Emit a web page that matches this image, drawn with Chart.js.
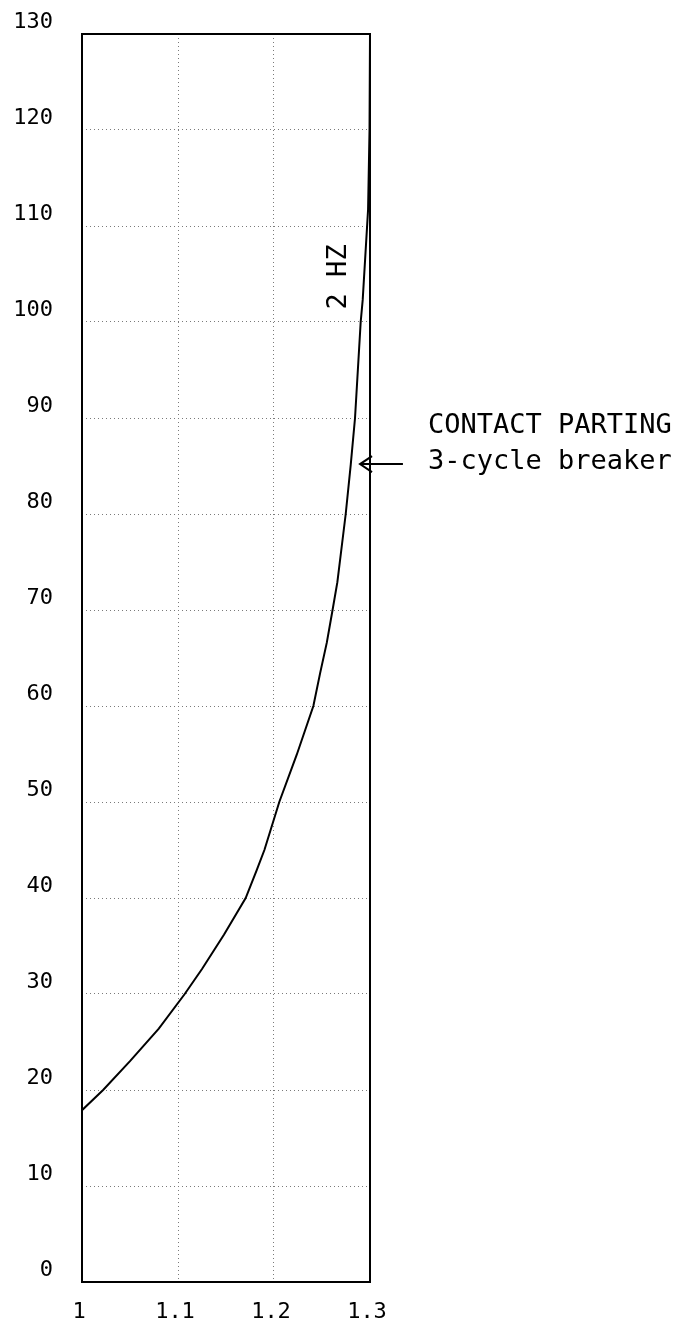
<!DOCTYPE html>
<html>
<head>
<meta charset="utf-8">
<script src="https://cdn.jsdelivr.net/npm/chart.js@4/dist/chart.umd.min.js"></script>
<style>
  html, body { margin: 0; padding: 0; background: #fff; }
  #wrap { width: 689px; height: 1326px; }
</style>
</head>
<body>
<div id="wrap"><canvas id="chart" width="689" height="1326"></canvas></div>
<script>
// curve (x = ratio, y = value)
const curveX = [1.0, 1.022, 1.05, 1.08, 1.107, 1.125, 1.148, 1.1705, 1.182, 1.19, 1.2055,
  1.2236, 1.241, 1.248, 1.255, 1.261, 1.266, 1.2747, 1.28, 1.2844, 1.2903, 1.2924, 1.298, 1.2995, 1.3];
const curveY = [17.9, 20, 23.0, 26.4, 30, 32.6, 36.2, 40, 42.9, 45, 50,
  54.9, 60, 63.4, 66.6, 70, 72.9, 80, 85.2, 90, 100, 102.3, 111.7, 120, 130];

const xTicks = [1, 1.1, 1.2, 1.3];
const yTicks = [0, 10, 20, 30, 40, 50, 60, 70, 80, 90, 100, 110, 120, 130];

// annotation anchors in data units
const curveLabel = { text: '2 HZ', x: 1.2677, y: 104.7 };
const noteLines = ['CONTACT PARTING', '3-cycle breaker'];
const noteAt = { x: 1.3604, y: [89.2, 85.4] };
const arrowTip = { x: 1.2896, y: 85.2 };
const arrowTail = { x: 1.3343, y: 85.2 };

const monoFont = '"DejaVu Sans Mono", "Liberation Mono", monospace';

const framePlugin = {
  id: 'frame',
  afterDatasetsDraw(chart) {
    const { ctx, chartArea: a, scales: { x, y } } = chart;
    ctx.save();
    ctx.strokeStyle = '#000';
    ctx.lineWidth = 2;
    ctx.strokeRect(a.left, a.top, a.right - a.left, a.bottom - a.top);

    ctx.fillStyle = '#000';
    ctx.font = '27px ' + monoFont;
    ctx.textBaseline = 'middle';

    // rotated curve label
    ctx.save();
    ctx.translate(x.getPixelForValue(curveLabel.x), y.getPixelForValue(curveLabel.y));
    ctx.rotate(-Math.PI / 2);
    ctx.textAlign = 'center';
    ctx.fillText(curveLabel.text, 0, 0);
    ctx.restore();

    // note text
    ctx.textAlign = 'left';
    noteLines.forEach((t, i) => {
      ctx.fillText(t, x.getPixelForValue(noteAt.x), y.getPixelForValue(noteAt.y[i]));
    });

    // arrow
    const tx = x.getPixelForValue(arrowTip.x), ty = y.getPixelForValue(arrowTip.y);
    const sx = x.getPixelForValue(arrowTail.x);
    ctx.lineWidth = 2;
    ctx.beginPath();
    ctx.moveTo(sx, ty);
    ctx.lineTo(tx, ty);
    ctx.moveTo(tx + 12, ty - 8);
    ctx.lineTo(tx, ty);
    ctx.lineTo(tx + 12, ty + 8);
    ctx.stroke();
    ctx.restore();
  }
};

new Chart(document.getElementById('chart'), {
  type: 'scatter',
  data: {
    datasets: [{
      data: curveX.map((v, i) => ({ x: v, y: curveY[i] })),
      showLine: true,
      borderColor: '#000',
      borderWidth: 2,
      pointRadius: 0,
      tension: 0
    }]
  },
  options: {
    responsive: false,
    animation: false,
    layout: { padding: { top: 34, right: 319, left: 0, bottom: 0 } },
    plugins: { legend: { display: false }, tooltip: { enabled: false } },
    scales: {
      x: {
        type: 'linear',
        min: 1, max: 1.3,
        afterBuildTicks: s => { s.ticks = xTicks.map(v => ({ value: v })); },
        afterFit: s => { s.height = 44; s.paddingLeft = 0; s.paddingRight = 0; },
        grid: { color: '#7a7a7a', lineWidth: 1, drawTicks: false },
        border: { display: false, dash: [1, 3] },
        ticks: {
          color: '#000',
          font: { family: monoFont, size: 22 },
          padding: 17,
          labelOffset: -3,
          maxRotation: 0,
          callback: v => String(Number(v.toFixed(1)))
        }
      },
      y: {
        type: 'linear',
        min: 0, max: 130,
        afterBuildTicks: s => { s.ticks = yTicks.map(v => ({ value: v })); },
        afterFit: s => { s.width = 82; s.paddingTop = 0; s.paddingBottom = 0; },
        grid: { color: '#7a7a7a', lineWidth: 1, drawTicks: false },
        border: { display: false, dash: [1, 3] },
        ticks: {
          color: '#000',
          font: { family: monoFont, size: 22 },
          padding: 29,
          labelOffset: -12
        }
      }
    }
  },
  plugins: [framePlugin]
});
</script>
</body>
</html>
